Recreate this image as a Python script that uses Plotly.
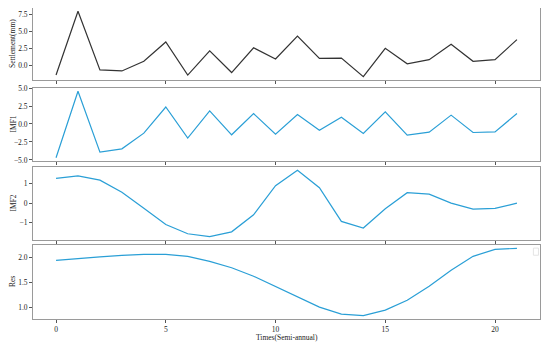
import plotly.graph_objects as go
from plotly.subplots import make_subplots

t = list(range(22))
settlement = [-1.45, 7.96, -0.71, -0.86, 0.57, 3.43, -1.47, 2.10, -1.09, 2.57, 0.91,
              4.29, 1.00, 1.05, -1.71, 2.48, 0.20, 0.81, 3.10, 0.57, 0.81, 3.77]
imf1 = [-4.68, 4.55, -3.91, -3.45, -1.27, 2.36, -1.95, 1.82, -1.50, 1.45, -1.41,
        1.32, -0.86, 0.95, -1.32, 1.68, -1.55, -1.14, 1.23, -1.18, -1.09, 1.45]
imf2 = [1.28, 1.41, 1.19, 0.56, -0.26, -1.10, -1.58, -1.73, -1.48, -0.60, 0.90,
        1.70, 0.80, -0.94, -1.28, -0.29, 0.54, 0.47, 0.00, -0.31, -0.27, 0.00]
res = [1.95, 1.99, 2.02, 2.05, 2.07, 2.07, 2.03, 1.93, 1.80, 1.63, 1.42,
       1.22, 1.01, 0.87, 0.84, 0.95, 1.15, 1.43, 1.75, 2.03, 2.17, 2.19]

series = [settlement, imf1, imf2, res]
labels = ["Settlement(mm)", "IMF1", "IMF2", "Res"]
colors = ["#333333", "#2a9fd6", "#2a9fd6", "#2a9fd6"]
yticks = [[0.0, 2.5, 5.0, 7.5], [-5.0, -2.5, 0.0, 2.5, 5.0], [-1, 0, 1], [1.0, 1.5, 2.0]]
yticktext = [["0.0", "2.5", "5.0", "7.5"], ["−5.0", "−2.5", "0.0", "2.5", "5.0"],
             ["−1", "0", "1"], ["1.0", "1.5", "2.0"]]
xticks = [0, 5, 10, 15, 20]

fig = make_subplots(rows=4, cols=1, shared_xaxes=True)
domains = [[0.7685, 1.0], [0.508, 0.743], [0.254, 0.489], [0.0, 0.238]]
font = "Liberation Serif, Times New Roman, serif"

for i in range(4):
    fig.add_trace(go.Scatter(x=t, y=series[i], mode="lines",
                             line=dict(color=colors[i], width=1.2),
                             showlegend=False), row=i + 1, col=1)
    lo, hi = min(series[i]), max(series[i])
    pad = (hi - lo) * 0.05
    yax = "yaxis" if i == 0 else f"yaxis{i+1}"
    xax = "xaxis" if i == 0 else f"xaxis{i+1}"
    fig.layout[yax].update(domain=domains[i], range=[lo - pad, hi + pad],
                           tickvals=yticks[i], ticktext=yticktext[i], automargin=False,
                           showgrid=False, zeroline=False, showline=True, mirror=True,
                           linecolor="#9a9a9a", linewidth=1, ticks="outside",
                           ticklen=3, tickcolor="#555", tickwidth=0.8,
                           tickfont=dict(size=7.5, color="#222"))
    fig.layout[xax].update(range=[-1.05, 22.05], tickvals=xticks,
                           showticklabels=(i == 3), automargin=False,
                           showgrid=False, zeroline=False, showline=True, mirror=True,
                           linecolor="#9a9a9a", linewidth=1, ticks="outside",
                           ticklen=3, tickcolor="#555", tickwidth=0.8,
                           tickfont=dict(size=7.5, color="#222"))
    ymid = (domains[i][0] + domains[i][1]) / 2
    fig.add_annotation(text=labels[i], xref="paper", yref="paper", x=-0.0394, y=ymid,
                       xanchor="center", yanchor="middle", textangle=-90,
                       showarrow=False, font=dict(size=7.5, color="#222"))

fig.add_annotation(text="Times(Semi-annual)", xref="paper", yref="paper", x=0.5,
                   y=-0.061, xanchor="center", yanchor="middle", showarrow=False,
                   font=dict(size=7.5, color="#222"))

# empty legend box in the last panel
fig.add_shape(type="rect", xref="paper", yref="paper", x0=0.987, x1=0.997,
              y0=0.205, y1=0.228, line=dict(color="#dddddd", width=0.8))

# page body has an 8px default margin; size the figure to fit the 550x344 window
fig.update_layout(width=542, height=336, margin=dict(l=25, r=10, t=0, b=25),
                  paper_bgcolor="white", plot_bgcolor="white",
                  font=dict(family=font, size=7.5, color="#222"))

fig.write_html("out.html")
